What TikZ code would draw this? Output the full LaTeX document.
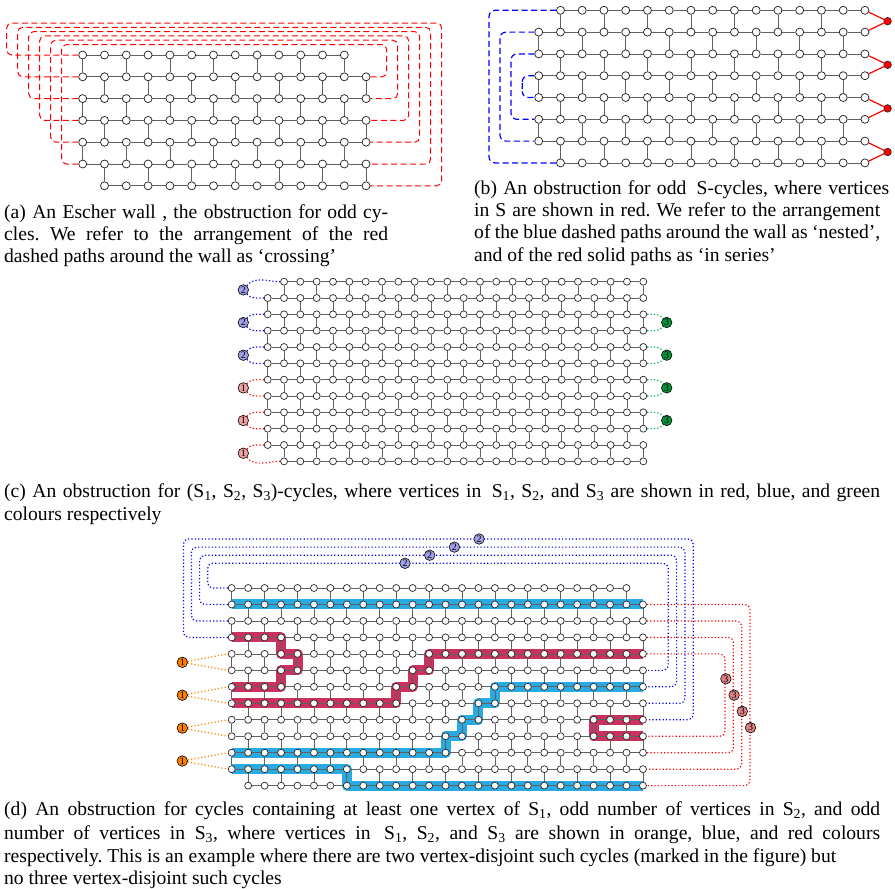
\documentclass[tikz,border=0pt]{standalone}
\usepackage{fontspec}
\setmainfont{Liberation Serif}
\usetikzlibrary{calc}
\pgfdeclarelayer{hl}
\pgfdeclarelayer{bg}
\pgfsetlayers{hl,bg,main}
\definecolor{hlblue}{RGB}{41,171,226}
\definecolor{hlred}{RGB}{200,50,95}
\definecolor{dotgreen}{RGB}{0,170,70}
\definecolor{lblblue}{RGB}{160,160,230}
\definecolor{lblred}{RGB}{240,160,160}
\definecolor{lblgreen}{RGB}{0,150,60}
\definecolor{lblorange}{RGB}{255,128,0}
\definecolor{lblpink}{RGB}{225,130,130}
\tikzset{
  vx/.style={circle, draw=black!85, fill=white, line width=0.75pt, inner sep=0pt, minimum size=8pt},
  vsm/.style={circle, draw=black!85, fill=white, line width=0.7pt, inner sep=0pt, minimum size=7pt},
  edge/.style={draw=black!62, line width=0.75pt},
  rdash/.style={draw=red, line width=1pt, dash pattern=on 6pt off 3.5pt, rounded corners=5pt},
  bdash/.style={draw=blue, line width=1.2pt, dash pattern=on 6pt off 3.5pt, rounded corners=6pt},
  bdot/.style={draw=blue, line width=1.2pt, dash pattern=on 1.2pt off 2.2pt, rounded corners=5pt},
  rdot/.style={draw=red, line width=1.2pt, dash pattern=on 1.2pt off 2.2pt, rounded corners=5pt},
  gdot/.style={draw=dotgreen, line width=1.2pt, dash pattern=on 1.2pt off 2.2pt},
  odot/.style={draw=lblorange, line width=1.2pt, dash pattern=on 1.2pt off 2.2pt},
  sline/.style={draw=red, line width=1.2pt},
  svert/.style={circle, draw=black!85, fill=red, line width=0.6pt, inner sep=0pt, minimum size=7.6pt},
  lab/.style={circle, draw=black, line width=0.6pt, inner sep=0pt, minimum size=10.5pt, font=\fontsize{10}{10}\selectfont},
  hb/.style={draw=hlblue, line width=10pt, line join=round},
  hr/.style={draw=hlred, line width=10pt, line join=round},
  captxt/.style={anchor=base west, inner sep=0pt, font=\fontsize{19.6}{23}\selectfont\frenchspacing},
}
\begin{document}
\begin{tikzpicture}[x=1pt,y=-1pt]
\useasboundingbox (0,0) rectangle (895,889);

% ================= (a) =================
\foreach \r in {0,...,6}{
  \foreach \c in {0,...,13}{
    \pgfmathtruncatemacro\ok{((\r==0) && (\c==13)) || ((\r==6) && (\c==0)) ? 0 : 1}
    \ifnum\ok=1 \node[vx] (a\r-\c) at ({82.7+21.8*\c},{55+21.8*\r}) {};\fi
  }
}
\begin{pgfonlayer}{bg}
\foreach \r in {0,...,6}{
  \foreach \c in {0,...,12}{
    \pgfmathtruncatemacro\n{\c+1}
    \pgfmathtruncatemacro\ok{((\r==0) && (\c==12)) || ((\r==6) && (\c==0)) ? 0 : 1}
    \ifnum\ok=1 \draw[edge] (a\r-\c) -- (a\r-\n);\fi
  }
}
\foreach \r in {0,...,5}{
  \pgfmathtruncatemacro\s{\r+1}
  \foreach \k in {0,...,6}{
    \pgfmathtruncatemacro\c{2*\k+mod(\r,2)}
    \draw[edge] (a\r-\c) -- (a\s-\c);
  }
}
\foreach \k in {0,...,5}{
  \pgfmathtruncatemacro\j{6-\k}
  \pgfmathsetmacro\L{6.7+11*\k}
  \pgfmathsetmacro\T{23+4.3*\k}
  \pgfmathsetmacro\R{441.7-11*\k}
  \draw[rdash] (a\k-0.west) -| (\L,\T) -- (\R,\T) |- (a\j-13.east);
}
\end{pgfonlayer}

% ================= (b) =================
\foreach \r in {0,...,7}{
  \foreach \c in {0,...,15}{
    \pgfmathtruncatemacro\ok{((\r==0) || (\r==7)) && (\c==0) ? 0 : 1}
    \ifnum\ok=1 \node[vx] (b\r-\c) at ({538.7+21.75*\c},{10.3+21.8*\r}) {};\fi
  }
}
\foreach \m in {0,...,3}{
  \node[svert] (s\m) at (887.6,{10.3+21.8*(2*\m+0.5)}) {};
}
\begin{pgfonlayer}{bg}
\foreach \r in {0,...,7}{
  \foreach \c in {0,...,14}{
    \pgfmathtruncatemacro\n{\c+1}
    \pgfmathtruncatemacro\ok{((\r==0) || (\r==7)) && (\c==0) ? 0 : 1}
    \ifnum\ok=1 \draw[edge] (b\r-\c) -- (b\r-\n);\fi
  }
}
\foreach \r in {0,...,6}{
  \pgfmathtruncatemacro\s{\r+1}
  \foreach \k in {0,...,7}{
    \pgfmathtruncatemacro\c{2*\k+1-mod(\r,2)}
    \ifnum\c<15 \draw[edge] (b\r-\c) -- (b\s-\c);\fi
  }
}
\foreach \m in {0,...,3}{
  \pgfmathtruncatemacro\p{2*\m}
  \pgfmathtruncatemacro\q{2*\m+1}
  \draw[sline] (s\m) -- (b\p-15);
  \draw[sline] (s\m) -- (b\q-15);
}
\foreach \k/\x in {0/489,1/500,2/511,3/522.3}{
  \pgfmathtruncatemacro\j{7-\k}
  \pgfmathtruncatemacro\cc{\k==0 ? 1 : 0}
  \draw[bdash] (b\k-\cc.west) -| (\x,86.6) |- (b\j-\cc.west);
}
\end{pgfonlayer}

% ================= (c) =================
\foreach \r in {0,...,11}{
  \foreach \c in {0,...,23}{
    \pgfmathtruncatemacro\ok{((\r==0) || (\r==11)) && (\c==0) ? 0 : 1}
    \ifnum\ok=1 \node[vsm] (c\r-\c) at ({267.7+16.33*\c},{281.7+16.33*\r}) {};\fi
  }
}
\begin{pgfonlayer}{bg}
\foreach \r in {0,...,11}{
  \foreach \c in {0,...,22}{
    \pgfmathtruncatemacro\n{\c+1}
    \pgfmathtruncatemacro\ok{((\r==0) || (\r==11)) && (\c==0) ? 0 : 1}
    \ifnum\ok=1 \draw[edge] (c\r-\c) -- (c\r-\n);\fi
  }
}
\foreach \r in {0,...,10}{
  \pgfmathtruncatemacro\s{\r+1}
  \foreach \k in {0,...,11}{
    \pgfmathtruncatemacro\c{2*\k+1-mod(\r,2)}
    \draw[edge] (c\r-\c) -- (c\s-\c);
  }
}
\end{pgfonlayer}
\foreach \m in {0,...,2}{
  \pgfmathtruncatemacro\p{2*\m}
  \pgfmathtruncatemacro\q{2*\m+1}
  \pgfmathtruncatemacro\cc{\p==0 ? 1 : 0}
  \node[lab, fill=lblblue] (cb\m) at (243.3,{289.9+32.66*\m}) {2};
  \begin{pgfonlayer}{bg}
  \draw[bdot] (cb\m) to[out=50,in=180] (c\p-\cc.west);
  \draw[bdot] (cb\m) to[out=-50,in=180] (c\q-0.west);
  \end{pgfonlayer}
}
\foreach \m in {0,...,2}{
  \pgfmathtruncatemacro\p{6+2*\m}
  \pgfmathtruncatemacro\q{7+2*\m}
  \pgfmathtruncatemacro\cc{\q==11 ? 1 : 0}
  \node[lab, fill=lblred] (cr\m) at (243.3,{387.9+32.66*\m}) {1};
  \begin{pgfonlayer}{bg}
  \draw[rdot] (cr\m) to[out=50,in=180] (c\p-0.west);
  \draw[rdot] (cr\m) to[out=-50,in=180] (c\q-\cc.west);
  \end{pgfonlayer}
}
\foreach \m in {0,...,3}{
  \pgfmathtruncatemacro\p{2+2*\m}
  \pgfmathtruncatemacro\q{3+2*\m}
  \node[lab, fill=lblgreen] (cg\m) at (666.7,{322.5+32.66*\m}) {3};
  \begin{pgfonlayer}{bg}
  \draw[gdot] (c\p-23.east) to[out=0,in=130] (cg\m);
  \draw[gdot] (c\q-23.east) to[out=0,in=-130] (cg\m);
  \end{pgfonlayer}
}

% ================= (d) =================
\foreach \r in {0,...,12}{
  \foreach \c in {0,...,25}{
    \pgfmathtruncatemacro\ok{((\r==0) && (\c==25)) || ((\r==12) && (\c==0)) ? 0 : 1}
    \ifnum\ok=1 \node[vsm] (d\r-\c) at ({231.7+16.45*\c},{588+16.47*\r}) {};\fi
  }
}
\begin{pgfonlayer}{bg}
\foreach \r in {0,...,12}{
  \foreach \c in {0,...,24}{
    \pgfmathtruncatemacro\n{\c+1}
    \pgfmathtruncatemacro\ok{((\r==0) && (\c==24)) || ((\r==12) && (\c==0)) ? 0 : 1}
    \ifnum\ok=1 \draw[edge] (d\r-\c) -- (d\r-\n);\fi
  }
}
\foreach \r in {0,...,11}{
  \pgfmathtruncatemacro\s{\r+1}
  \foreach \k in {0,...,12}{
    \pgfmathtruncatemacro\c{2*\k+mod(\r,2)}
    \draw[edge] (d\r-\c) -- (d\s-\c);
  }
}
\foreach \k in {0,...,3}{
  \pgfmathtruncatemacro\j{5+\k}
  \pgfmathsetmacro\L{207.7-8.1*\k}
  \pgfmathsetmacro\T{563.3-8.1*\k}
  \pgfmathsetmacro\R{668.3+8.3*\k}
  \draw[bdot] (d\k-0.west) -| (\L,\T) -- (\R,\T) |- (d\j-25.east);
}
\foreach \k in {1,...,4}{
  \pgfmathtruncatemacro\j{13-\k}
  \pgfmathsetmacro\X{750-8.33*(\k-1)}
  \draw[rdot] (d\k-25.east) -| (\X,700) |- (d\j-25.east);
}
\end{pgfonlayer}
\foreach \k in {0,...,3}{
  \node[lab, fill=lblblue] (db\k) at ({405+24.7*\k},{563.3-8.1*\k}) {2};
}
\foreach \k in {1,...,4}{
  \node[lab, fill=lblpink] (dr\k) at ({750.5-8.2*(\k-1)},{727.7-16.3*(\k-1)}) {3};
}
\foreach \m in {0,...,3}{
  \pgfmathtruncatemacro\p{4+2*\m}
  \pgfmathtruncatemacro\q{5+2*\m}
  \node[lab, fill=lblorange] (do\m) at (182.3,{662.3+32.9*\m}) {1};
  \begin{pgfonlayer}{bg}
  \draw[odot] (do\m) -- (d\p-0.west);
  \draw[odot] (do\m) -- (d\q-0.west);
  \end{pgfonlayer}
}
\begin{pgfonlayer}{hl}
\draw[hb] (d1-0.center) -- (d1-25.center);
\draw[hb] (d11-0.center) -- (d11-7.center) -- (d12-7.center) -- (d12-25.center);
\draw[hb] (d10-0.center) -- (d10-13.center) -- (d9-13.center) -- (d9-14.center) -- (d8-14.center) -- (d8-15.center) -- (d7-15.center) -- (d7-16.center) -- (d6-16.center) -- (d6-25.center);
\draw[hr] (d3-0.center) -- (d3-3.center) -- (d4-3.center) -- (d4-4.center) -- (d5-4.center) -- (d5-3.center) -- (d6-3.center) -- (d6-0.center);
\draw[hr] (d7-0.center) -- (d7-10.center) -- (d6-10.center) -- (d6-11.center) -- (d5-11.center) -- (d5-12.center) -- (d4-12.center) -- (d4-25.center);
\draw[hr] (d8-25.center) -- (d8-22.center) -- (d9-22.center) -- (d9-25.center);
\end{pgfonlayer}

% ================= captions =================
\node[captxt] (ca1) at (4,218) {\makebox[384pt][s]{(a) An Escher wall , the obstruction for odd cy-}};
\node[captxt] (ca2) at (4,240) {\makebox[384pt][s]{cles. We refer to the arrangement of the red}};
\node[captxt] (ca3) at (4,262) {dashed paths around the wall as `crossing'};

\node[captxt] (cb1) at (474,194) {\makebox[415pt][s]{(b) An obstruction for odd \hspace{4pt}S-cycles, where vertices}};
\node[captxt] (cb2) at (474,216) {\makebox[406pt][s]{in S are shown in red. We refer to the arrangement}};
\node[captxt] (cb3) at (474,238) {\makebox[406pt][s]{of the blue dashed paths around the wall as `nested',}};
\node[captxt] (cb4) at (474,261) {and of the red solid paths as `in series'};

\node[captxt] (cc1) at (4,497) {\makebox[876pt][s]{(c) An obstruction for (S\textsubscript{1}, S\textsubscript{2}, S\textsubscript{3})-cycles, where vertices in \hspace{4pt}S\textsubscript{1}, S\textsubscript{2}, and S\textsubscript{3} are shown in red, blue, and green}};
\node[captxt] (cc2) at (4,520) {colours respectively};

\node[captxt] (cd1) at (4,815) {\makebox[876pt][s]{(d) An obstruction for cycles containing at least one vertex of S\textsubscript{1}, odd number of vertices in S\textsubscript{2}, and odd}};
\node[captxt] (cd2) at (4,839) {\makebox[876pt][s]{number of vertices in S\textsubscript{3}, where vertices in \hspace{4pt}S\textsubscript{1}, S\textsubscript{2}, and S\textsubscript{3} are shown in orange, blue, and red colours}};
\node[captxt] (cd3) at (4,862) {respectively. This is an example where there are two vertex-disjoint such cycles (marked in the figure) but};
\node[captxt] (cd4) at (4,884) {no three vertex-disjoint such cycles};
\end{tikzpicture}
\end{document}
